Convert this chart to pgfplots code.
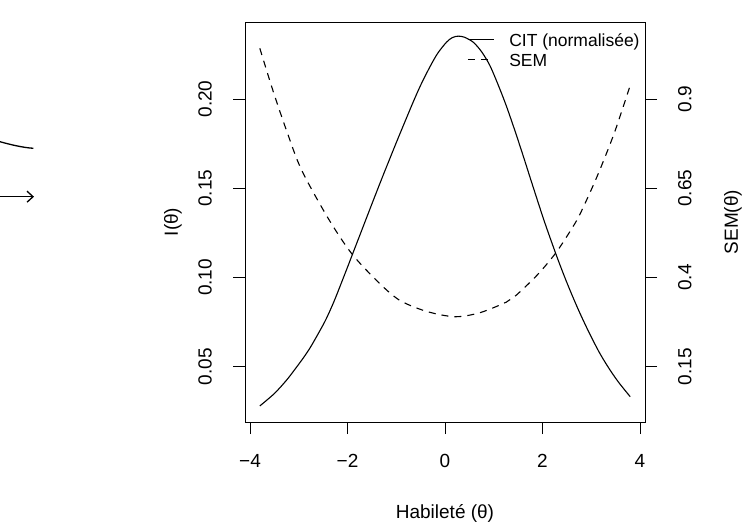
\documentclass[border=0pt]{standalone}
\usepackage{pgfplots}
\pgfplotsset{compat=1.18}
\usepackage{pgfplotstable}
\usepackage{fontspec}
\setmainfont{Liberation Sans}
\usetikzlibrary{arrows.meta}

\pgfplotstableread{
x y
-3.80 0.0280
-3.50 0.0350
-3.25 0.0425
-3.07 0.0489
-2.90 0.0552
-2.75 0.0614
-2.50 0.0735
-2.39 0.0796
-2.25 0.0884
-2.00 0.1058
-1.91 0.1122
-1.75 0.1235
-1.64 0.1313
-1.50 0.1412
-1.33 0.1531
-1.25 0.1586
-0.99 0.1762
-0.75 0.1920
-0.65 0.1985
-0.50 0.2077
-0.31 0.2180
-0.15 0.2256
0.03 0.2318
0.15 0.2344
0.27 0.2352
0.40 0.2346
0.58 0.2318
0.75 0.2265
0.92 0.2188
1.10 0.2073
1.26 0.1960
1.43 0.1826
1.60 0.1685
1.80 0.1514
2.04 0.1313
2.28 0.1128
2.45 0.1006
2.59 0.0912
2.75 0.0811
2.93 0.0706
3.15 0.0588
3.34 0.0501
3.55 0.0417
3.80 0.0332
}\citdata

\pgfplotstableread{
x y
-3.80 1.042
-3.52 0.919
-3.24 0.807
-2.94 0.700
-2.39 0.564
-1.91 0.466
-1.37 0.387
-0.93 0.336
-0.38 0.305
0.20 0.290
0.71 0.301
1.26 0.331
1.46 0.350
1.90 0.408
2.28 0.470
2.62 0.541
2.79 0.583
3.13 0.686
3.48 0.807
3.80 0.938
}\semdata

\begin{document}
\begin{tikzpicture}[x=1pt,y=1pt]
\useasboundingbox (0,0) rectangle (747,522);
\draw[line width=1.3pt] (0,380.3) .. controls (10,377.5) and (22,374.5) .. (33.3,373.7);
\draw[line width=1.3pt,-{Straight Barb[length=6pt,width=11pt]}] (0,325.3) -- (34,325.3);

\pgfplotsset{
  base/.style={
    at={(245pt,100pt)}, anchor=south west, scale only axis,
    width=400pt, height=400pt,
    xmin=-4.104, xmax=4.104,
    tick align=outside, major tick length=12pt,
    every tick/.style={black, line width=0.8pt},
    axis line style={line width=0.8pt},
    tick label style={font=\fontsize{19}{21}\selectfont, inner sep=0pt, black},
    label style={font=\fontsize{19}{21}\selectfont},
    xticklabel shift=20pt, yticklabel shift=21pt,
    /pgf/number format/assume math mode=true,
  }
}

\begin{axis}[base,
  ymin=0.01901, ymax=0.24314,
  xtick={-4,-2,0,2,4}, xticklabels={−4,−2,0,2,4}, xtick pos=bottom,
  ytick={0.05,0.10,0.15,0.20}, yticklabels={0.05,0.10,0.15,0.20}, ytick pos=left,
  yticklabel style={rotate=90, anchor=south},
  xlabel={Habileté (θ)}, ylabel={I(θ)},
  xlabel style={at={(axis description cs:0.5,-0.24)}, anchor=base},
  ylabel style={at={(axis description cs:-0.18,0.5)}, anchor=center},
]
\addplot[black, line width=1.1pt, smooth] table[x=x,y=y] {\citdata};
\end{axis}

\begin{axis}[base,
  ymin=-0.00495, ymax=1.1157,
  axis y line*=right, axis x line=none,
  ytick={0.15,0.4,0.65,0.9}, yticklabels={0.15,0.4,0.65,0.9},
  yticklabel style={rotate=90, anchor=north},
  ylabel={SEM(θ)},
  ylabel style={at={(axis description cs:1.22,0.5)}, anchor=center},
  legend image code/.code={\draw[#1] (0pt,0pt) -- (26pt,0pt); \path (41pt,0pt);},
  legend cell align=left,
  legend style={draw=none, fill=none, at={(axis description cs:0.555,0.97625)},
    anchor=north west, inner sep=0pt, row sep=5pt,
    font=\fontsize{17.5}{19}\selectfont,
    nodes={inner sep=0pt, text height=15pt, text depth=0pt}},
]
\addlegendimage{black, line width=1.1pt}
\addlegendentry{CIT (normalisée)}
\addplot[black, line width=1.1pt, smooth, dash pattern=on 7pt off 6pt] table[x=x,y=y] {\semdata};
\addlegendentry{SEM}
\end{axis}
\end{tikzpicture}
\end{document}
